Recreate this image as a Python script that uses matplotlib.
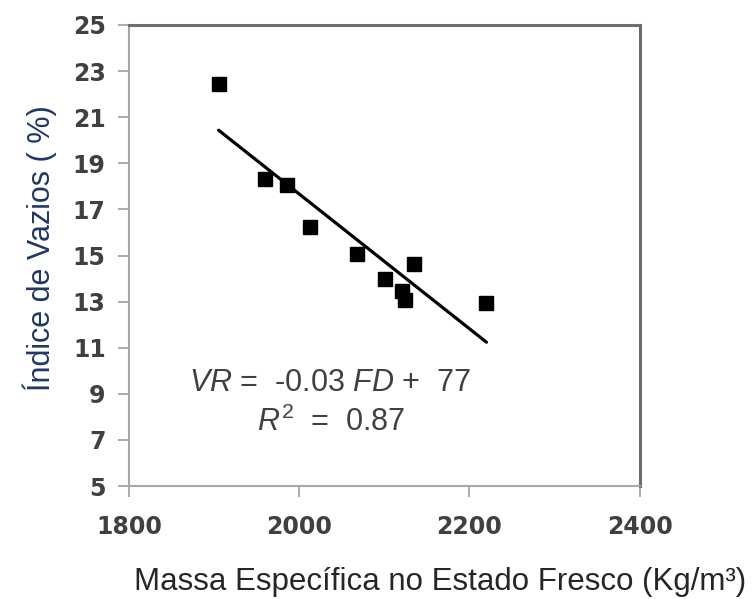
import matplotlib
matplotlib.use("Agg")
import matplotlib.pyplot as plt
import numpy as np

# Fresh density (kg/m3) vs void index (%)
massa = [1905, 1960, 1985, 2012, 2068, 2101, 2135, 2121, 2124, 2220]
vazios = [22.45, 18.3, 18.05, 16.25, 15.05, 14.0, 14.65, 13.45, 13.05, 12.95]

x_ticks = [1800, 2000, 2200, 2400]
y_ticks = [5, 7, 9, 11, 13, 15, 17, 19, 21, 23, 25]

plt.rcParams['mathtext.fontset'] = 'custom'
plt.rcParams['mathtext.rm'] = 'Liberation Sans'
plt.rcParams['mathtext.it'] = 'Liberation Sans:italic'

fig = plt.figure(figsize=(7.52, 5.99), dpi=100)
ax = fig.add_axes([129.3 / 752, 1 - 486 / 599, 510.2 / 752, 461 / 599])

ax.plot(massa, vazios, 's', color='black', markersize=10, zorder=3)

# linear regression line over the data range
a, b = np.polyfit(massa, vazios, 1)
xs = np.array([min(massa), max(massa)])
ax.plot(xs, a * xs + b, color='black', lw=2.3, solid_capstyle='round', zorder=2)

ax.set_xlim(1800, 2400)
ax.set_ylim(5, 25)
ax.set_xticks(x_ticks)
ax.set_yticks(y_ticks)

for side in ['left', 'bottom']:
    ax.spines[side].set_color('#a6a6a6')
    ax.spines[side].set_linewidth(1.5)
for side in ['top', 'right']:
    ax.spines[side].set_color('#6e6e6e')
    ax.spines[side].set_linewidth(2.2)

ax.tick_params(direction='out', length=8, width=1.3, color='#a6a6a6',
               labelsize=17, labelcolor='#404040')
ax.tick_params(axis='y', pad=9)
ax.tick_params(axis='x', pad=13)
for lbl in ax.get_xticklabels() + ax.get_yticklabels():
    lbl.set_fontfamily('DejaVu Sans')
    lbl.set_fontweight('bold')

ax.text(2036, 9.45, r'$VR$ =  -0.03 $FD$ +  77', ha='center', va='center',
        fontsize=22, color='#404040', family='Liberation Sans')
ax.text(2037, 7.75, r'$R^2$  =  0.87', ha='center', va='center',
        fontsize=22, color='#404040', family='Liberation Sans')

fig.text(40 / 752, 1 - 248 / 599, 'Índice de Vazios ( %)', rotation=90,
         ha='center', va='center', fontsize=22, color='#1f3864',
         family='Liberation Sans')
fig.text(440 / 752, 1 - 582 / 599, 'Massa Específica no Estado Fresco (Kg/m³)',
         ha='center', va='center', fontsize=22.5, color='#262626',
         family='Liberation Sans')

fig.savefig('out.png', dpi=100)
